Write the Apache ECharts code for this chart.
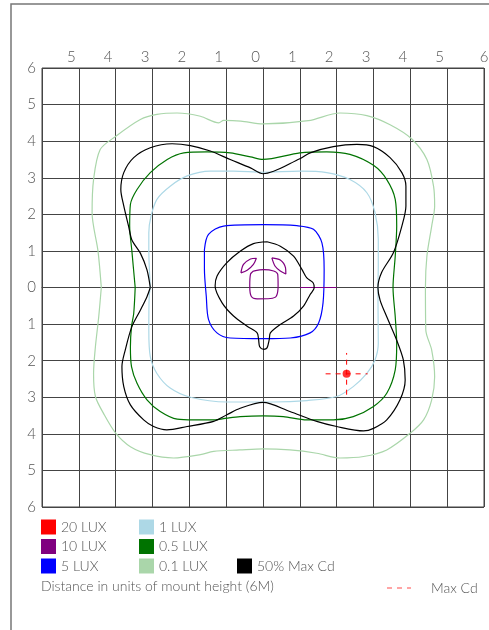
<!DOCTYPE html>
<html style="height: 100%">
  <head>
    <meta charset="utf-8" />
  </head>
  <body style="height: 100%; margin: 0; background: #fff">
    <div id="container" style="position: absolute; left: 0; top: 0; width: 489px; height: 630px"></div>
    <script type="text/javascript" src="https://cdn.jsdelivr.net/npm/echarts@6/dist/echarts.min.js"></script>
    <script type="text/javascript">
      var dom = document.getElementById('container');
      var myChart = echarts.init(dom, null, { renderer: 'canvas' });

      // axis ticks (distance in mount heights)
      var axisMin = -6;
      var axisMax = 6;

      // 0.1 lux contour
      var lux01 = [
        [-4.39, 0], [-4.48, 1.0], [-4.64, 2.04], [-4.6, 2.95], [-4.42, 3.77], [-4.0, 4.13],
        [-3.33, 4.59], [-2.88, 4.73], [-2.33, 4.77], [-1.7, 4.68], [-1.2, 4.5], [-1.07, 4.57],
        [-0.6, 4.55], [0, 4.47], [1.23, 4.56], [2.09, 4.77], [2.82, 4.7], [3.45, 4.45],
        [4.04, 4.06], [4.45, 3.5], [4.63, 2.77], [4.66, 2.23], [4.58, 1.68], [4.45, 0.86],
        [4.41, 0.0], [4.42, -1.16], [4.58, -1.71], [4.66, -2.44], [4.58, -3.07], [4.36, -3.62],
        [4.0, -3.98], [3.36, -4.44], [2.73, -4.62], [2.09, -4.66], [1.46, -4.53], [0.73, -4.44],
        [0, -4.41], [-0.63, -4.44], [-1.34, -4.48], [-1.7, -4.57], [-2.43, -4.66], [-3.06, -4.57],
        [-3.6, -4.35], [-4.0, -3.98], [-4.33, -3.44], [-4.55, -2.98], [-4.6, -2.35], [-4.55, -1.62],
        [-4.46, -0.8]
      ];

      // 0.5 lux contour
      var lux05 = [
        [-3.47, 0], [-3.56, 1.0], [-3.62, 1.68], [-3.6, 2.27], [-3.42, 2.68], [-3.06, 3.14],
        [-2.6, 3.5], [-2.15, 3.68], [-1.52, 3.71], [-0.89, 3.68], [-0.34, 3.57], [0, 3.5],
        [1.0, 3.68], [1.73, 3.71], [2.36, 3.64], [3.0, 3.34], [3.36, 2.95], [3.59, 2.41],
        [3.63, 1.68], [3.59, 0.86], [3.53, 0.0], [3.59, -0.8], [3.63, -1.53], [3.59, -2.25],
        [3.36, -2.89], [3.0, -3.25], [2.45, -3.53], [1.91, -3.62], [1.19, -3.62], [0.55, -3.53],
        [0, -3.51], [-0.62, -3.53], [-0.98, -3.57], [-1.34, -3.62], [-1.88, -3.62], [-2.33, -3.6],
        [-2.79, -3.39], [-3.15, -3.07], [-3.42, -2.62], [-3.57, -2.16], [-3.6, -1.62], [-3.57, -1.07],
        [-3.51, -0.71]
      ];

      // 1 lux contour
      var lux1 = [
        [-3.06, 0], [-3.1, 1.05], [-3.1, 1.5], [-3.04, 1.95], [-2.88, 2.41], [-2.52, 2.77],
        [-2.06, 3.05], [-1.43, 3.18], [-0.8, 3.18], [0, 3.15], [1.0, 3.18], [1.73, 3.14],
        [2.36, 2.95], [2.82, 2.59], [3.04, 2.05], [3.13, 1.32], [3.13, 0.59], [3.12, 0.0],
        [3.13, -1.53], [3.04, -1.98], [2.82, -2.35], [2.45, -2.71], [2.0, -2.98], [1.19, -3.09],
        [0.28, -3.13], [-0.62, -3.13], [-0.98, -3.13], [-1.97, -3.0], [-2.52, -2.75], [-2.88, -2.35],
        [-3.06, -1.89], [-3.1, -1.16], [-3.09, -0.25]
      ];

      // 5 lux contour
      var lux5 = [
        [-1.59, 1.04], [-1.48, 1.45], [-1.07, 1.68], [0.02, 1.72], [0.92, 1.69], [1.37, 1.59],
        [1.6, 1.22], [1.66, 0.49], [1.63, -0.42], [1.51, -0.97], [1.28, -1.24], [0.74, -1.38],
        [0.02, -1.4], [-0.89, -1.38], [-1.25, -1.24], [-1.48, -0.87], [-1.54, -0.24], [-1.59, 0.49]
      ];

      // 10 lux contours
      var lux10Center = [
        [-0.26, 0.45], [0.02, 0.49], [0.29, 0.45], [0.4, 0.36], [0.41, 0.04], [0.36, -0.24],
        [0.2, -0.3], [-0.16, -0.31], [-0.32, -0.24], [-0.36, 0.04], [-0.34, 0.36]
      ];
      var lux10Left = [
        [-0.6, 0.4], [-0.53, 0.63], [-0.34, 0.78], [-0.18, 0.8], [-0.26, 0.63], [-0.43, 0.47]
      ];
      var lux10Right = [
        [0.24, 0.81], [0.47, 0.75], [0.61, 0.54], [0.62, 0.37], [0.47, 0.45], [0.33, 0.58]
      ];
      var lux10Seg = [[1.0, 0], [2.0, 0]];

      // 50% max candela contours
      var cdOuter = [
        [-3.06, 0], [-3.15, 0.48], [-3.33, 0.94], [-3.56, 1.3], [-3.65, 1.68], [-3.78, 2.23],
        [-3.86, 2.68], [-3.78, 3.14], [-3.51, 3.55], [-3.06, 3.82], [-2.47, 3.93], [-1.97, 3.88],
        [-1.43, 3.73], [-0.89, 3.5], [-0.34, 3.27], [0, 3.11], [1.0, 3.52], [1.28, 3.68],
        [1.91, 3.85], [2.55, 3.91], [3.0, 3.85], [3.45, 3.55], [3.77, 3.14], [3.88, 2.77],
        [3.88, 2.23], [3.77, 1.68], [3.54, 0.95], [3.22, 0.41], [3.12, 0.0], [3.18, -0.35],
        [3.36, -0.8], [3.63, -1.44], [3.81, -1.98], [3.86, -2.53], [3.72, -3.07], [3.36, -3.62],
        [3.0, -3.85], [2.73, -3.92], [2.0, -3.8], [1.46, -3.66], [0.73, -3.39], [0, -3.14],
        [-0.62, -3.3], [-0.98, -3.48], [-1.34, -3.66], [-2.06, -3.8], [-2.61, -3.89], [-2.97, -3.8],
        [-3.24, -3.62], [-3.6, -3.21], [-3.78, -2.71], [-3.83, -2.16], [-3.74, -1.71], [-3.56, -1.07],
        [-3.33, -0.62], [-3.15, -0.25]
      ];
      var cdInner = [
        [0.11, 1.25], [0.47, 1.13], [0.83, 0.86], [1.06, 0.49], [1.19, 0.26], [1.36, 0.13],
        [1.39, -0.01], [1.28, -0.19], [1.1, -0.51], [0.83, -0.78], [0.47, -1.01], [0.2, -1.24],
        [0.17, -1.42], [0.11, -1.65], [0.02, -1.69], [-0.09, -1.62], [-0.12, -1.42], [-0.16, -1.24],
        [-0.43, -1.06], [-0.8, -0.78], [-1.11, -0.42], [-1.3, 0.04], [-1.25, 0.31], [-0.98, 0.68],
        [-0.62, 0.99], [-0.26, 1.2]
      ];

      // location of maximum candela
      var maxCd = [2.27, -2.36];
      var crossHalf = 0.57;

      function closed(pts) {
        return pts.concat([pts[0]]);
      }

      function contour(name, color, pts, isClosed) {
        return {
          name: name,
          type: 'line',
          data: isClosed === false ? pts : closed(pts),
          showSymbol: false,
          symbol: 'none',
          smooth: 0.3,
          silent: true,
          animation: false,
          itemStyle: { color: color },
          lineStyle: { color: color, width: 1.2 }
        };
      }

      var fontFam = 'Lato, "DejaVu Sans", sans-serif';
      var textCol = '#555';
      var gridCol = '#444';

      var dashCross = function (pts) {
        return {
          name: 'Max Cd',
          type: 'line',
          data: pts,
          symbol: 'none',
          silent: true,
          animation: false,
          itemStyle: { color: '#ff0000' },
          lineStyle: { color: '#ff0000', width: 1, type: [5, 5] },
          z: 5
        };
      };

      var legendText = { fontFamily: fontFam, fontSize: 14, fontWeight: 300, color: textCol, lineHeight: 16 };

      option = {
        animation: false,
        grid: {
          left: 42,
          top: 68,
          right: 5,
          bottom: 123,
          containLabel: false,
          outerBoundsMode: 'none',
          show: true,
          borderColor: gridCol,
          borderWidth: 1
        },
        xAxis: [
          {
            type: 'value',
            position: 'top',
            min: axisMin,
            max: axisMax,
            interval: 1,
            axisLine: { show: true, lineStyle: { color: gridCol } },
            axisTick: { show: false },
            splitLine: { show: true, lineStyle: { color: gridCol, width: 1 } },
            axisLabel: {
              showMinLabel: false,
              margin: 3,
              fontFamily: fontFam,
              fontSize: 15,
              fontWeight: 300,
              color: textCol,
              padding: [0, 15, 0, 0],
              formatter: function (v) {
                return v >= axisMax ? '' : String(Math.abs(v));
              }
            }
          },
          {
            type: 'value',
            position: 'top',
            min: axisMin,
            max: axisMax,
            interval: 1,
            axisLine: { show: false },
            axisTick: { show: false },
            splitLine: { show: false },
            axisLabel: {
              margin: 3,
              fontFamily: fontFam,
              fontSize: 15,
              fontWeight: 300,
              color: textCol,
              formatter: function (v) {
                return v >= axisMax ? String(v) : '';
              }
            }
          }
        ],
        yAxis: {
          type: 'value',
          min: axisMin,
          max: axisMax,
          interval: 1,
          axisLine: { show: true, lineStyle: { color: gridCol } },
          axisTick: { show: false },
          splitLine: { show: true, lineStyle: { color: gridCol, width: 1 } },
          axisLabel: {
            margin: 6,
            fontFamily: fontFam,
            fontSize: 15,
            fontWeight: 300,
            color: textCol,
            padding: [3, 0, 0, 0],
            formatter: function (v) {
              return Math.abs(v);
            }
          }
        },
        legend: [
          {
            data: ['20 LUX', '10 LUX', '5 LUX'],
            orient: 'vertical',
            left: 41,
            top: 519,
            padding: 0,
            icon: 'rect',
            itemWidth: 15,
            itemHeight: 15,
            itemGap: 3.5,
            selectedMode: false,
            itemStyle: { borderWidth: 0 },
            textStyle: legendText
          },
          {
            data: ['1 LUX', '0.5 LUX', '0.1 LUX'],
            orient: 'vertical',
            left: 139,
            top: 519,
            padding: 0,
            icon: 'rect',
            itemWidth: 15,
            itemHeight: 15,
            itemGap: 3.5,
            selectedMode: false,
            itemStyle: { borderWidth: 0 },
            textStyle: legendText
          },
          {
            data: ['50% Max Cd'],
            orient: 'vertical',
            left: 237,
            top: 558,
            padding: 0,
            icon: 'rect',
            itemWidth: 15,
            itemHeight: 15,
            selectedMode: false,
            itemStyle: { borderWidth: 0 },
            textStyle: legendText
          },
          {
            data: [{ name: 'Max Cd', icon: 'path://M0,0h5v1h-5z M10,0h5v1h-5z M20,0h4v1h-4z' }],
            left: 387,
            top: 581,
            padding: 0,
            itemWidth: 24,
            itemHeight: 2,
            selectedMode: false,
            itemStyle: { borderWidth: 0, opacity: 0.7 },
            textStyle: { fontFamily: fontFam, fontSize: 14, fontWeight: 300, color: textCol, padding: [0, 0, 0, 15] }
          }
        ],
        graphic: [
          {
            type: 'polyline',
            silent: true,
            shape: { points: [[11, 640], [11, 4], [495, 4]] },
            style: { stroke: '#777', lineWidth: 1.5, fill: null }
          },
          {
            type: 'text',
            left: 41,
            top: 579,
            silent: true,
            style: {
              text: 'Distance in units of mount height (6M)',
              fontFamily: fontFam,
              fontSize: 14,
              fontWeight: 300,
              fill: textCol
            }
          }
        ],
        series: [
          contour('20 LUX', '#ff0000', [], false),
          contour('0.1 LUX', '#aad6aa', lux01),
          contour('0.5 LUX', '#007300', lux05),
          contour('1 LUX', '#add8e6', lux1),
          contour('5 LUX', '#0000ff', lux5),
          contour('10 LUX', '#800080', lux10Center),
          contour('10 LUX', '#800080', lux10Left),
          contour('10 LUX', '#800080', lux10Right),
          contour('10 LUX', '#800080', lux10Seg, false),
          contour('50% Max Cd', '#000000', cdOuter),
          contour('50% Max Cd', '#000000', cdInner),
          dashCross([[maxCd[0] - crossHalf, maxCd[1]], [maxCd[0] + crossHalf, maxCd[1]]]),
          dashCross([[maxCd[0], maxCd[1] - crossHalf], [maxCd[0], maxCd[1] + crossHalf]]),
          {
            name: 'Max Cd',
            type: 'scatter',
            data: [maxCd],
            symbolSize: 8,
            silent: true,
            itemStyle: { color: '#ff0000' },
            z: 6
          }
        ]
      };

      myChart.setOption(option);
    </script>
  </body>
</html>
